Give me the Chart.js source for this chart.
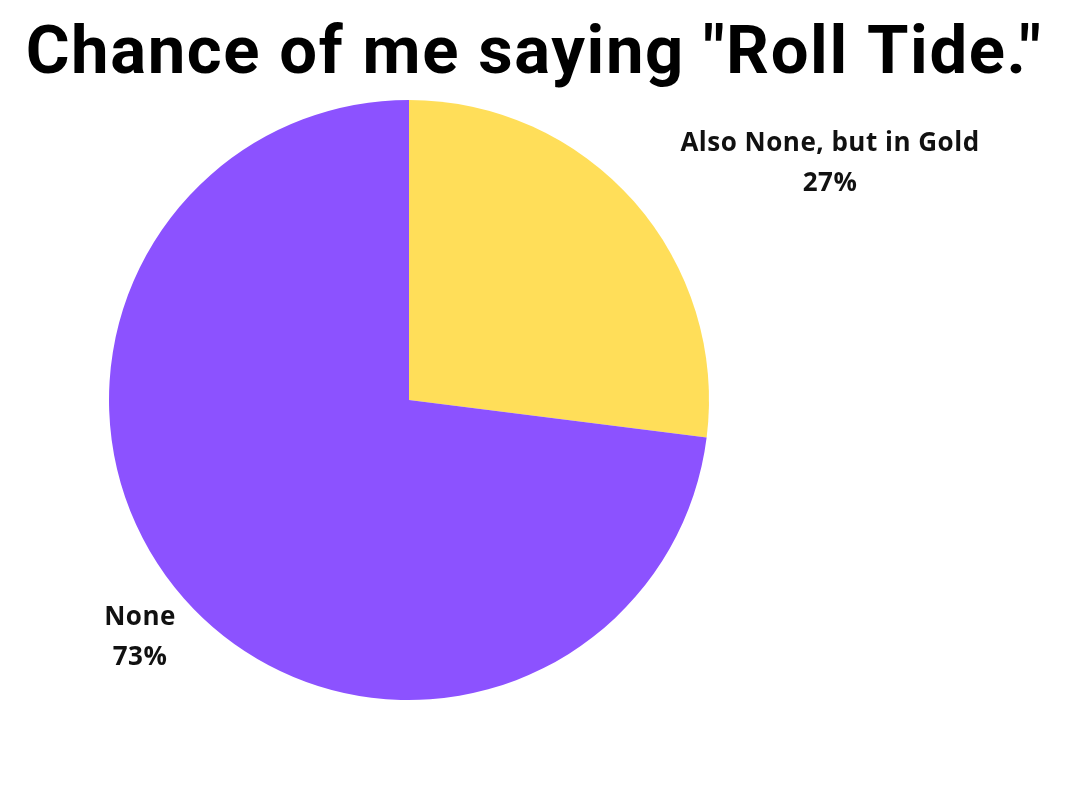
<!DOCTYPE html>
<html>
<head>
<meta charset="utf-8">
<script src="https://cdn.jsdelivr.net/npm/chart.js@4"></script>
<style>
  html, body { margin: 0; padding: 0; background: #fff; }
  #wrap { width: 1067px; height: 800px; }
</style>
</head>
<body>
<div id="wrap"><canvas id="pieChart" width="1067" height="800"></canvas></div>
<script>
const chartTitle = 'Chance of me saying "Roll Tide."';
const labels = ['Also None, but in Gold', 'None'];
const values = [27, 73];
const colors = ['#FFDE59', '#8C52FF'];

// where each slice's caption sits (centre of the two-line block)
const labelSpots = [{ x: 830, y: 164 }, { x: 140, y: 638 }];

const titlePlugin = {
  id: 'bigTitle',
  afterDraw(chart) {
    const ctx = chart.ctx;
    ctx.save();
    ctx.fillStyle = '#000';
    ctx.textAlign = 'center';
    ctx.textBaseline = 'alphabetic';
    ctx.font = 'bold 67px Roboto, "Liberation Sans", sans-serif';
    ctx.letterSpacing = '1.6px';
    ctx.fillText(chartTitle, 534, 73, 1025);
    ctx.restore();
  }
};

const sliceLabels = {
  id: 'sliceLabels',
  afterDraw(chart) {
    const ctx = chart.ctx;
    const total = values.reduce((a, b) => a + b, 0);
    ctx.save();
    ctx.fillStyle = '#111';
    ctx.textAlign = 'center';
    ctx.textBaseline = 'middle';
    ctx.font = 'bold 26px "Open Sans", sans-serif';
    ctx.letterSpacing = '0.5px';
    labels.forEach((name, i) => {
      const spot = labelSpots[i];
      const pct = Math.round(values[i] / total * 100) + '%';
      ctx.fillText(name, spot.x, spot.y - 20);
      ctx.fillText(pct, spot.x, spot.y + 20);
    });
    ctx.restore();
  }
};

new Chart(document.getElementById('pieChart').getContext('2d'), {
  type: 'pie',
  data: {
    labels: labels,
    datasets: [{
      data: values,
      backgroundColor: colors,
      borderWidth: 0
    }]
  },
  options: {
    responsive: false,
    animation: false,
    layout: { padding: { left: 109, right: 358, top: 100, bottom: 100 } },
    plugins: {
      legend: { display: false },
      tooltip: { enabled: false },
      title: { display: false }
    }
  },
  plugins: [titlePlugin, sliceLabels]
});
</script>
</body>
</html>
